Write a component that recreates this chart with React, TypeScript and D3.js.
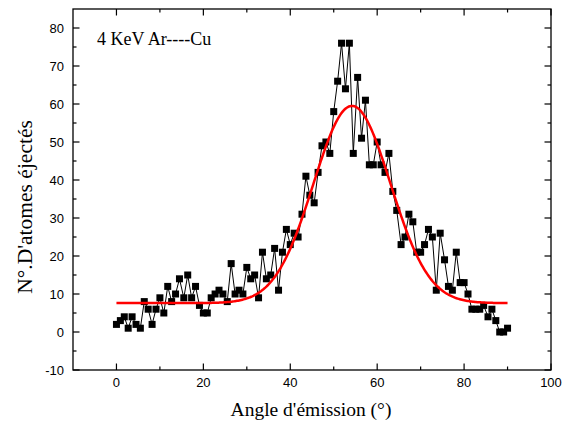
import React from "react";
import * as d3 from "d3";

const angles = [
  0, 0.9, 1.8, 2.7, 3.6, 4.5, 5.5, 6.4, 7.3, 8.2, 9.1,
  10, 10.9, 11.8, 12.7, 13.6, 14.5, 15.5, 16.4, 17.3, 18.2, 19.1,
  20, 20.9, 21.8, 22.7, 23.6, 24.5, 25.5, 26.4, 27.3, 28.2, 29.1,
  30, 30.9, 31.8, 32.7, 33.6, 34.5, 35.5, 36.4, 37.3, 38.2, 39.1,
  40, 40.9, 41.8, 42.7, 43.6, 44.5, 45.5, 46.4, 47.3, 48.2, 49.1,
  50, 50.9, 51.8, 52.7, 53.6, 54.5, 55.5, 56.4, 57.3, 58.2, 59.1,
  60, 60.9, 61.8, 62.7, 63.6, 64.5, 65.5, 66.4, 67.3, 68.2, 69.1,
  70, 70.9, 71.8, 72.7, 73.6, 74.5, 75.5, 76.4, 77.3, 78.2, 79.1,
  80, 80.9, 81.8, 82.7, 83.6, 84.5, 85.5, 86.4, 87.3, 88.2, 89.1,
  90,
];

const counts = [
  2, 3, 4, 1, 4, 2, 1, 8, 6, 2,
  6, 9, 5, 12, 8, 10, 14, 9, 15, 9,
  12, 7, 5, 5, 9, 10, 11, 10, 8, 18,
  10, 11, 10, 17, 14, 15, 9, 21, 14, 15,
  22, 11, 21, 27, 23, 26, 25, 31, 41, 36,
  34, 42, 49, 50, 47, 58, 66, 76, 64, 76,
  47, 67, 51, 61, 44, 44, 50, 44, 42, 47,
  37, 32, 23, 25, 31, 29, 21, 21, 23, 27,
  25, 11, 26, 19, 12, 11, 21, 13, 13, 10,
  6, 6, 6, 7, 4, 6, 3, 0, 0, 1,
];

// Gaussian fit parameters (as drawn in the reference)
const fitBaseline = 7.6;
const fitCenter = 54.2;
const fitWidth = 17.7;
const fitHeight = 51.9;
const fitRange = [0, 90];

const xTicksMajor = [0, 20, 40, 60, 80, 100];
const xTicksMinor = [10, 30, 50, 70, 90];
const yTicksMajor = [-10, 0, 10, 20, 30, 40, 50, 60, 70, 80];
const yTicksMinor = [-5, 5, 15, 25, 35, 45, 55, 65, 75];

const annotation = "4 KeV Ar----Cu";
const xTitle = "Angle d'émission (°)";
const yTitle = "N°.D'atomes éjectés";

export default function App() {
  const W = 576, H = 424;
  const L = 73, R = 551, T = 9, B = 370;
  const x = d3.scaleLinear().domain([-10, 100]).range([L, R]);
  const y = d3.scaleLinear().domain([-10, 85]).range([B, T]);

  const pts = angles.map((a, i) => [a, counts[i]] as [number, number]);
  const line = d3.line<[number, number]>().x(d => x(d[0])).y(d => y(d[1]));

  const fitX = d3.range(fitRange[0], fitRange[1] + 0.01, 0.25);
  const fitPts = fitX.map(a => [a, fitBaseline + fitHeight * Math.exp(-2 * Math.pow((a - fitCenter) / fitWidth, 2))] as [number, number]);

  const major = 6.5, minor = 3.5;
  const sq = 7;

  return (
    <div style={{ position: "absolute", left: 0, top: 0 }}>
      <svg width={W} height={H} style={{ display: "block", background: "#fff" }}>
        <rect x={0} y={0} width={W} height={H} fill="#fff" />
        {/* data line */}
        <path d={line(pts) || ""} fill="none" stroke="#000" strokeWidth={1} />
        {/* markers */}
        {pts.map((p, i) => (
          <rect key={i} x={x(p[0]) - sq / 2} y={y(p[1]) - sq / 2} width={sq} height={sq} fill="#000" />
        ))}
        {/* fit */}
        <path d={line(fitPts) || ""} fill="none" stroke="#ff0000" strokeWidth={2.5} />
        {/* frame */}
        <rect x={L} y={T} width={R - L} height={B - T} fill="none" stroke="#000" strokeWidth={1.3} />
        {/* x ticks */}
        {xTicksMajor.map(t => (
          <g key={"xm" + t}>
            <line x1={x(t)} x2={x(t)} y1={B} y2={B - major} stroke="#000" strokeWidth={1.2} />
            <line x1={x(t)} x2={x(t)} y1={T} y2={T + major} stroke="#000" strokeWidth={1.2} />
            <text x={x(t)} y={B + 17} textAnchor="middle" fontFamily="Liberation Sans, Arial, sans-serif" fontSize={13}>{t}</text>
          </g>
        ))}
        {xTicksMinor.map(t => (
          <g key={"xn" + t}>
            <line x1={x(t)} x2={x(t)} y1={B} y2={B - minor} stroke="#000" strokeWidth={1.2} />
            <line x1={x(t)} x2={x(t)} y1={T} y2={T + minor} stroke="#000" strokeWidth={1.2} />
          </g>
        ))}
        {/* y ticks */}
        {yTicksMajor.map(t => (
          <g key={"ym" + t}>
            <line x1={L} x2={L + major} y1={y(t)} y2={y(t)} stroke="#000" strokeWidth={1.2} />
            <line x1={R} x2={R - major} y1={y(t)} y2={y(t)} stroke="#000" strokeWidth={1.2} />
            <text x={L - 9} y={y(t) + 4.5} textAnchor="end" fontFamily="Liberation Sans, Arial, sans-serif" fontSize={13}>{t}</text>
          </g>
        ))}
        {yTicksMinor.map(t => (
          <g key={"yn" + t}>
            <line x1={L} x2={L + minor} y1={y(t)} y2={y(t)} stroke="#000" strokeWidth={1.2} />
            <line x1={R} x2={R - minor} y1={y(t)} y2={y(t)} stroke="#000" strokeWidth={1.2} />
          </g>
        ))}
        {/* annotation */}
        <text x={97} y={45} fontFamily="Liberation Serif, Times New Roman, serif" fontSize={18}>{annotation}</text>
        {/* axis titles */}
        <text x={311} y={416} textAnchor="middle" fontFamily="Liberation Serif, Times New Roman, serif" fontSize={19.5}>{xTitle}</text>
        <text transform={`translate(32,207) rotate(-90)`} textAnchor="middle" fontFamily="Liberation Serif, Times New Roman, serif" fontSize={21.5}>{yTitle}</text>
      </svg>
    </div>
  );
}
